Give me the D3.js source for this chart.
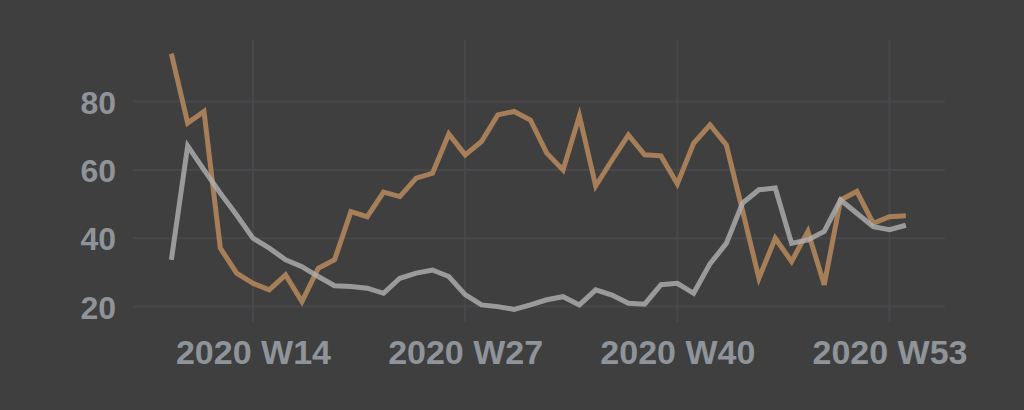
<!DOCTYPE html>
<html>
<head>
<meta charset="utf-8">
<script src="https://cdn.jsdelivr.net/npm/d3@7"></script>
<style>
  html, body { margin: 0; padding: 0; background: #3f3f3f; }
  .chart text { font-family: "Liberation Sans", Arial, sans-serif; font-weight: bold; fill: #8e9499; }
</style>
</head>
<body>
<div class="chart"></div>
<script>
// week number (W54 = first week after 2020 W53)
const weeks = [9, 10, 11, 12, 13, 14, 15, 16, 17, 18, 19, 20, 21, 22, 23, 24, 25, 26, 27, 28, 29, 30, 31,
  32, 33, 34, 35, 36, 37, 38, 39, 40, 41, 42, 43, 44, 45, 46, 47, 48, 49, 50, 51, 52, 53, 54];

const orangeSeries = [94.0, 73.7, 77.1, 37.1, 29.8, 26.8, 24.9, 29.3, 21.5, 31.2, 33.7, 47.8, 46.3, 53.5,
  52.2, 57.6, 59.0, 70.5, 64.4, 68.3, 76.1, 77.1, 74.6, 64.9, 60.0, 75.8, 55.3, 62.9, 70.2, 64.4, 64.1,
  55.9, 67.8, 73.2, 67.3, 48.0, 28.3, 40.0, 33.2, 42.0, 26.4, 51.2, 53.7, 44.4, 46.3, 46.6];

const greySeries = [33.7, 67.0, 60.0, 53.2, 46.8, 40.0, 37.1, 33.7, 31.7, 28.8, 26.1, 25.9, 25.4, 23.9,
  28.3, 29.8, 30.7, 28.8, 23.5, 20.5, 20.0, 19.2, 20.5, 22.0, 22.9, 20.5, 24.9, 23.4, 21.0, 20.7, 26.4,
  26.8, 23.9, 32.5, 38.5, 50.3, 54.2, 54.7, 38.5, 39.5, 42.0, 51.2, 47.3, 43.4, 42.5, 43.8];

const xTicks = [14, 27, 40, 53];
const yTicks = [20, 40, 60, 80];

const width = 1024, height = 410;
const plot = { left: 133, right: 945, top: 40, bottom: 322 };

const svg = d3.select(".chart")
  .append("svg")
  .attr("width", width)
  .attr("height", height);

svg.append("rect")
  .attr("width", width)
  .attr("height", height)
  .attr("fill", "#3f3f3f");

const x = d3.scaleLinear()
  .domain([6.65, 56.4])
  .range([plot.left, plot.right]);

const y = d3.scaleLinear()
  .domain([15.5, 98])
  .range([plot.bottom, plot.top]);

/* grid lines */
svg.selectAll(".hgrid")
  .data(yTicks)
  .enter()
  .append("line")
  .attr("x1", plot.left)
  .attr("x2", plot.right)
  .attr("y1", d => y(d))
  .attr("y2", d => y(d))
  .attr("stroke", "#48484c")
  .attr("stroke-width", 2);

svg.selectAll(".vgrid")
  .data(xTicks)
  .enter()
  .append("line")
  .attr("x1", d => x(d))
  .attr("x2", d => x(d))
  .attr("y1", plot.top)
  .attr("y2", plot.bottom)
  .attr("stroke", "#48484c")
  .attr("stroke-width", 2);

/* axes */
const xAxis = svg.append("g")
  .attr("transform", `translate(0,${plot.bottom})`)
  .call(d3.axisBottom(x).tickValues(xTicks).tickFormat(d => "2020 W" + d).tickSize(0).tickPadding(18));

xAxis.select(".domain").remove();
xAxis.selectAll("text").attr("font-size", "34px").attr("dy", "0.71em");

const yAxis = svg.append("g")
  .attr("transform", `translate(${plot.left - 17},0)`)
  .call(d3.axisLeft(y).tickValues(yTicks).tickSize(0).tickPadding(0));

yAxis.select(".domain").remove();
yAxis.selectAll("text").attr("font-size", "32px").attr("dy", "0.36em");

/* lines */
const line = d3.line()
  .x((d, i) => x(weeks[i]))
  .y(d => y(d));

svg.append("path")
  .datum(orangeSeries)
  .attr("d", line)
  .attr("fill", "none")
  .attr("stroke", "#b88a5c")
  .attr("stroke-opacity", 0.85)
  .attr("stroke-width", 5)
  .attr("stroke-linejoin", "miter");

svg.append("path")
  .datum(greySeries)
  .attr("d", line)
  .attr("fill", "none")
  .attr("stroke", "#b2b2b2")
  .attr("stroke-opacity", 0.8)
  .attr("stroke-width", 5)
  .attr("stroke-linejoin", "miter");
</script>
</body>
</html>
